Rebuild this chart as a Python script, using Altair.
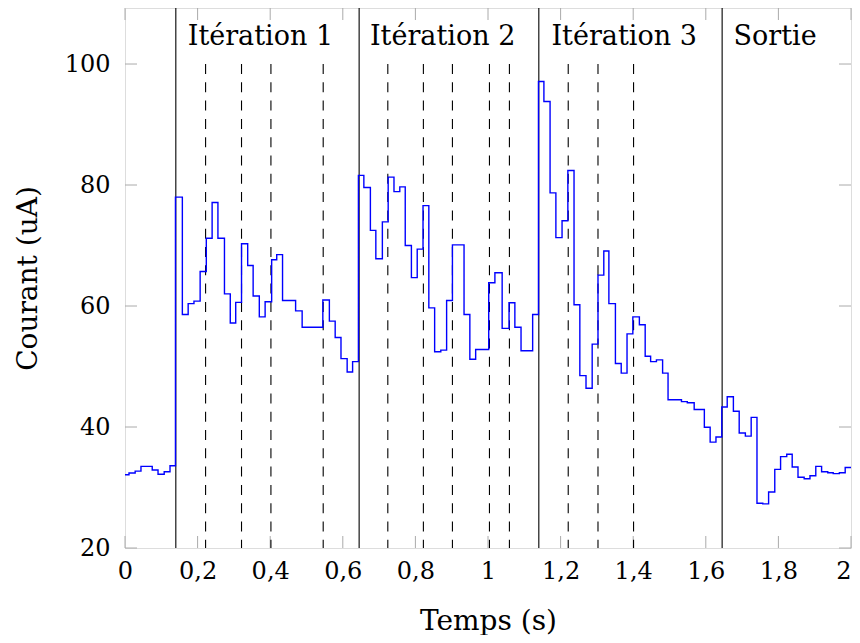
import altair as alt
import pandas as pd

# Step signal (time of each step start, current value)
times = [0.000, 0.011, 0.028, 0.044, 0.075, 0.091, 0.108, 0.124, 0.139, 0.158,
         0.174, 0.190, 0.207, 0.224, 0.240, 0.256, 0.274, 0.290, 0.305, 0.321,
         0.338, 0.353, 0.370, 0.386, 0.404, 0.418, 0.434, 0.470, 0.488, 0.545,
         0.563, 0.579, 0.595, 0.612, 0.627, 0.643, 0.658, 0.676, 0.691, 0.709,
         0.725, 0.741, 0.757, 0.772, 0.789, 0.805, 0.821, 0.837, 0.853, 0.870,
         0.886, 0.902, 0.934, 0.950, 0.966, 1.002, 1.019, 1.039, 1.058, 1.074,
         1.091, 1.123, 1.139, 1.154, 1.171, 1.187, 1.204, 1.220, 1.237, 1.253,
         1.270, 1.287, 1.303, 1.319, 1.333, 1.351, 1.367, 1.383, 1.399, 1.417,
         1.433, 1.448, 1.464, 1.481, 1.496, 1.533, 1.549, 1.568, 1.596, 1.612,
         1.628, 1.644, 1.659, 1.676, 1.692, 1.709, 1.725, 1.741, 1.757, 1.773,
         1.790, 1.806, 1.823, 1.838, 1.854, 1.871, 1.887, 1.903, 1.919, 1.936,
         1.951, 1.968, 1.984, 2.000]
current = [32.1, 32.4, 32.7, 33.5, 32.9, 32.2, 32.6, 33.6, 78.0, 58.6,
           60.4, 60.8, 65.7, 71.2, 77.1, 71.2, 62.0, 57.2, 60.6, 70.3,
           66.7, 61.65, 58.2, 60.7, 67.65, 68.5, 60.9, 59.2, 56.5, 61.0,
           57.5, 54.8, 51.3, 49.1, 50.8, 81.6, 79.6, 72.5, 67.8, 73.9,
           81.3, 78.9, 79.7, 70.0, 64.7, 69.4, 76.6, 59.7, 52.45, 52.7,
           60.9, 70.1, 58.6, 51.2, 52.8, 63.85, 65.5, 56.3, 60.55, 56.5,
           52.6, 58.6, 97.1, 93.8, 78.7, 71.3, 74.1, 82.4, 60.2, 48.5,
           46.4, 53.7, 65.1, 69.1, 60.4, 50.5, 48.9, 55.4, 58.2, 56.9,
           51.7, 50.8, 51.1, 48.9, 44.5, 44.2, 44.0, 42.9, 39.95, 37.5,
           38.35, 43.3, 45.0, 42.6, 39.0, 38.5, 41.6, 27.4, 27.3, 29.25,
           33.0, 35.1, 35.5, 33.4, 31.7, 31.45, 31.95, 33.5, 32.6, 32.45,
           32.3, 32.45, 33.3, 33.3]

# Phase boundaries (solid) and sub-step markers (dashed)
boundaries = [0.14, 0.645, 1.14, 1.645]
dashed_x = [0.222, 0.321, 0.402, 0.546, 0.724, 0.822, 0.902, 1.004, 1.059,
            1.221, 1.303, 1.401]
dashed_top = 100
dashed_bottom = 20

# Phase labels
phase_labels = ["Itération 1", "Itération 2", "Itération 3", "Sortie"]
phase_label_x = [0.373, 0.875, 1.375, 1.791]
phase_label_y = 103.14

x_ticks = [0, 0.2, 0.4, 0.6, 0.8, 1.0, 1.2, 1.4, 1.6, 1.8, 2.0]
y_ticks = [20, 40, 60, 80, 100]

X_DOMAIN = [0, 2]
Y_DOMAIN = [20, 109.26]
W, H = 726, 540
FONT = "DejaVu Serif"

sig = pd.DataFrame({"t": times, "i": current})
bnd = pd.DataFrame({"t": boundaries})
dsh = pd.DataFrame({"t": dashed_x, "y0": [dashed_top] * len(dashed_x),
                    "y1": [dashed_bottom] * len(dashed_x)})
lab = pd.DataFrame({"t": phase_label_x, "y": [phase_label_y] * 4, "txt": phase_labels})
xt = pd.DataFrame({"t": x_ticks})
yt = pd.DataFrame({"v": y_ticks})

xs = alt.Scale(domain=X_DOMAIN, nice=False, zero=False)
ys = alt.Scale(domain=Y_DOMAIN, nice=False, zero=False)

xaxis = alt.Axis(values=x_ticks, labelExpr="replace(format(datum.value, '~g'), '.', ',')",
                 ticks=False, tickSize=0, domain=False, grid=False, labelFlush=False,
                 labelOverlap=False,
                 labelAlign=alt.condition("datum.value >= 2", alt.value("right"), alt.value("center")),
                 labelFont=FONT, labelFontSize=24, labelColor="black", labelPadding=11,
                 labelBaseline="top",
                 title="Temps (s)", titleFont=FONT, titleFontSize=28, titleFontWeight="normal",
                 titleColor="black", titlePadding=24)
yaxis = alt.Axis(values=y_ticks, format="d", ticks=False, tickSize=0, domain=False, grid=False,
                 labelFont=FONT, labelFontSize=24, labelColor="black", labelPadding=15,
                 title="Courant (uA)", titleFont=FONT, titleFontSize=28, titleFontWeight="normal",
                 titleColor="black", titlePadding=22)

line = alt.Chart(sig).mark_line(interpolate="step-after", color="#0000ff", strokeWidth=1.4).encode(
    x=alt.X("t:Q", scale=xs, axis=xaxis),
    y=alt.Y("i:Q", scale=ys, axis=yaxis),
)

tick_col = "#aaaaaa"
xt_bottom = alt.Chart(xt).mark_rule(color=tick_col, strokeWidth=1).encode(
    x=alt.X("t:Q", scale=xs), y=alt.value(H), y2=alt.value(H - 12))
xt_top = alt.Chart(xt).mark_rule(color=tick_col, strokeWidth=1).encode(
    x=alt.X("t:Q", scale=xs), y=alt.value(0), y2=alt.value(12))
yt_left = alt.Chart(yt).mark_rule(color=tick_col, strokeWidth=1).encode(
    y=alt.Y("v:Q", scale=ys), x=alt.value(0), x2=alt.value(12))
yt_right = alt.Chart(yt).mark_rule(color=tick_col, strokeWidth=1).encode(
    y=alt.Y("v:Q", scale=ys), x=alt.value(W - 12), x2=alt.value(W))

solid = alt.Chart(bnd).mark_rule(color="black", strokeWidth=1.1).encode(
    x=alt.X("t:Q", scale=xs))

dashed = alt.Chart(dsh).mark_rule(color="black", strokeWidth=1.1, strokeDash=[10, 8.3]).encode(
    x=alt.X("t:Q", scale=xs), y=alt.Y("y0:Q", scale=ys), y2="y1:Q")

labels = alt.Chart(lab).mark_text(font=FONT, fontSize=27, color="black",
                                  align="center", baseline="alphabetic").encode(
    x=alt.X("t:Q", scale=xs), y=alt.Y("y:Q", scale=ys), text="txt:N")

chart = alt.layer(xt_bottom, xt_top, yt_left, yt_right, dashed, solid, line, labels).properties(
    width=W, height=H,
    autosize=alt.AutoSizeParams(type="none"),
    padding={"left": 117, "top": 0, "right": 1, "bottom": 87},
).configure_view(stroke="black", strokeWidth=1.1).configure(background="white")

chart.save("out.html", embed_options={"renderer": "svg", "actions": False})
